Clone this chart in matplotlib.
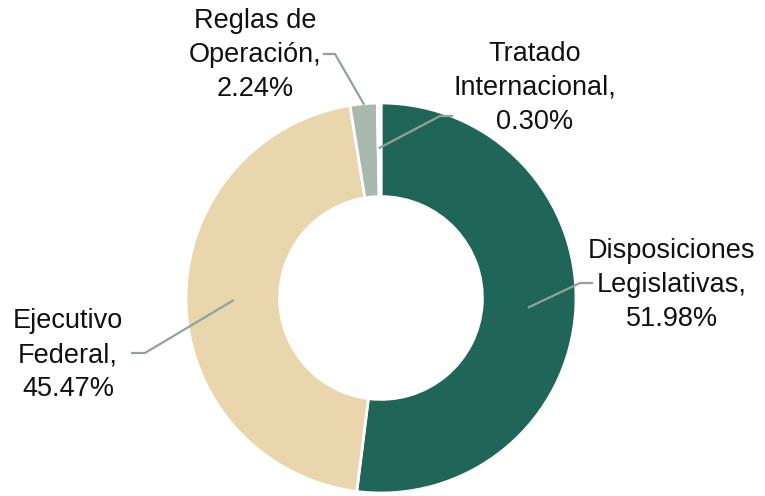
import numpy as np
import matplotlib.pyplot as plt

# datos de la grafica
labels = ['Disposiciones\nLegislativas,', 'Ejecutivo\nFederal,', 'Reglas de\nOperación,', 'Tratado\nInternacional,']
values = [51.98, 45.47, 2.24, 0.30]
colors = ['#1F6659', '#EAD6AC', '#A9B9B0', '#F2F2EE']

# posicion de textos (px de la imagen) y quiebre de la linea guia
text_px = [(672, 285), (68, 355), (255, 55), (535, 88)]
elbow_px = [(580, 283), (145, 353), (335, 54), (440, 116)]
tick_px = [(592, 283), (132, 353), (324, 54), (452, 116)]
anchor_r = [0.76, 0.76, 1.0, 0.77]

W, H = 765, 496
cx, cy, R = 381, 298, 195

def to_data(p):
    return ((p[0] - cx) / R, (cy - p[1]) / R)

fig = plt.figure(figsize=(W / 100, H / 100), dpi=100)
ax = fig.add_axes([0, 0, 1, 1])
wedges, _ = ax.pie(values, colors=colors, startangle=90, counterclock=False,
                   radius=1.0, wedgeprops=dict(width=0.48, edgecolor='white', linewidth=2))
ax.set_xlim(-cx / R, (W - cx) / R)
ax.set_ylim(-(H - cy) / R, cy / R)
ax.axis('off')

for w, lab, v, tp, ep, kp, r in zip(wedges, labels, values, text_px, elbow_px, tick_px, anchor_r):
    ang = np.deg2rad((w.theta1 + w.theta2) / 2)
    ax_, ay_ = r * np.cos(ang), r * np.sin(ang)
    e = to_data(ep)
    k = to_data(kp)
    ax.plot([ax_, e[0], k[0]], [ay_, e[1], k[1]], color='#8FA39C', lw=1.6)
    t = to_data(tp)
    ax.text(t[0], t[1], lab + '\n' + f'{v:.2f}%', ha='center', va='center',
            fontsize=19.5, family='Liberation Sans', color='#111111', linespacing=1.38)

plt.savefig('out.png', dpi=100)
